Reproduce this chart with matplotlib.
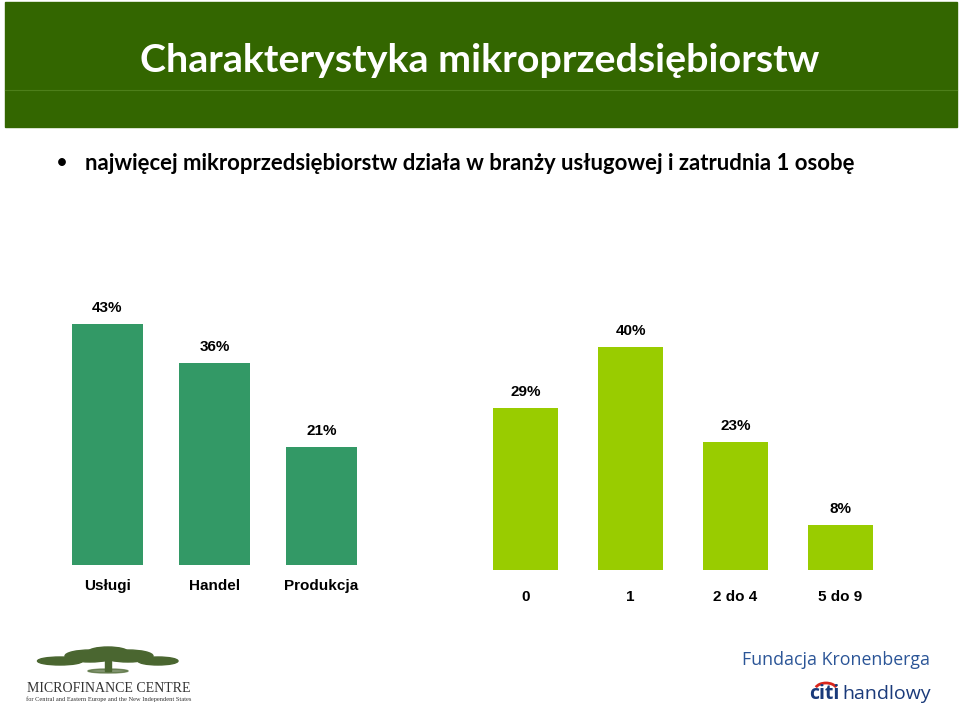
import matplotlib
matplotlib.use("Agg")
from matplotlib import pyplot as plt
from matplotlib.patches import Rectangle, Arc, Ellipse

# dane
branze = ["Usługi", "Handel", "Produkcja"]
branze_proc = [43, 36, 21]
zatrudnienie = ["0", "1", "2 do 4", "5 do 9"]
zatrudnienie_proc = [29, 40, 23, 8]

W, H = 960, 706
fig = plt.figure(figsize=(W / 100, H / 100), dpi=100)
fig.patch.set_facecolor("white")


def px(x0, y0, w, h):
    # prostokat w pikselach (od gory) -> wspolrzedne figury
    return [x0 / W, 1 - (y0 + h) / H, w / W, h / H]


# zielony naglowek
fig.patches.append(Rectangle((5 / W, 1 - 127 / H), 952 / W, 125 / H,
                             transform=fig.transFigure, color="#336600", zorder=0))
fig.lines.append(plt.Line2D([5 / W, 957 / W], [1 - 90 / H] * 2, transform=fig.transFigure,
                            color="#4d7f1a", lw=0.8))
fig.text(480 / W, 1 - 60 / H, "Charakterystyka mikroprzedsiębiorstw", color="white",
         fontsize=28.4, family="Lato", weight="bold", ha="center", va="center")

fig.text(62 / W, 1 - 163 / H, "•", fontsize=15, family="Lato", ha="center", va="center")
fig.text(85 / W, 1 - 163 / H, "najwięcej mikroprzedsiębiorstw działa w branży usługowej i zatrudnia 1 osobę",
         fontsize=15.9, family="Lato", weight="bold", ha="left", va="center")

lab_font = dict(family="Liberation Sans", weight="bold", fontsize=11)

# lewy wykres - branze
ax1 = fig.add_axes(px(54, 285, 321, 280))
x1 = range(len(branze))
ax1.bar(x1, branze_proc, width=0.66, color="#339966")
for i, v in enumerate(branze_proc):
    ax1.text(i, v + 1.6, f"{v}%", ha="center", va="bottom", **lab_font)
# etykiety kategorii wyrownane do linii bazowej
for i, lab in enumerate(branze):
    ax1.text(i, -0.089, lab, transform=ax1.get_xaxis_transform(), ha="center",
             va="baseline", clip_on=False, **lab_font)
ax1.set_xlim(-0.5, 2.5)
ax1.set_ylim(0, 50)
ax1.set_xticks([])
ax1.set_yticks([])
for s in ax1.spines.values():
    s.set_visible(False)

# prawy wykres - zatrudnienie
ax2 = fig.add_axes(px(473, 291, 420, 279))
x2 = range(len(zatrudnienie))
ax2.bar(x2, zatrudnienie_proc, width=0.62, color="#99cc00")
for i, v in enumerate(zatrudnienie_proc):
    ax2.text(i, v + 1.6, f"{v}%", ha="center", va="bottom", **lab_font)
for i, lab in enumerate(zatrudnienie):
    ax2.text(i, -0.111, lab, transform=ax2.get_xaxis_transform(), ha="center",
             va="baseline", clip_on=False, **lab_font)
ax2.set_xlim(-0.5, 3.5)
ax2.set_ylim(0, 50)
ax2.set_xticks([])
ax2.set_yticks([])
for s in ax2.spines.values():
    s.set_visible(False)

# stopka - logo Microfinance Centre (drzewo uproszczone)
tree = "#4a6630"
for cx, cy, w, h in [(60, 661, 45, 8), (90, 656, 50, 12), (128, 656, 50, 12),
                     (158, 661, 40, 8), (108, 652, 40, 10)]:
    fig.patches.append(Ellipse((cx / W, 1 - cy / H), w / W, h / H,
                               transform=fig.transFigure, color=tree))
fig.patches.append(Rectangle((105 / W, 1 - 671 / H), 6 / W, 12 / H,
                             transform=fig.transFigure, color=tree))
fig.patches.append(Ellipse((108 / W, 1 - 671 / H), 40 / W, 4 / H,
                           transform=fig.transFigure, color=tree, alpha=0.7))
fig.text(109 / W, 1 - 688 / H, "MICROFINANCE CENTRE", fontsize=10, family="Liberation Serif",
         color="#333333", ha="center", va="center")
fig.text(109 / W, 1 - 699 / H, "for Central and Eastern Europe and the New Independent States",
         fontsize=4.6, family="Liberation Serif", color="#333333", ha="center", va="center")

# logo Fundacja Kronenberga / citi handlowy
fig.text(930 / W, 1 - 660 / H, "Fundacja Kronenberga", fontsize=12.8, family="Open Sans",
         color="#2b5597", ha="right", va="center")
fig.text(842 / W, 1 - 694 / H, "handlowy", fontsize=14, family="Open Sans",
         color="#1a3a7a", ha="left", va="center")
fig.text(839 / W, 1 - 694 / H, "citi", fontsize=14, family="Open Sans", weight="bold",
         color="#1a3a7a", ha="right", va="center")
fig.patches.append(Arc((826 / W, 1 - 690 / H), 22 / W, 14 / H, theta1=20, theta2=160,
                       transform=fig.transFigure, color="#d9261c", lw=2))

fig.savefig("out.png", dpi=100, facecolor="white")
